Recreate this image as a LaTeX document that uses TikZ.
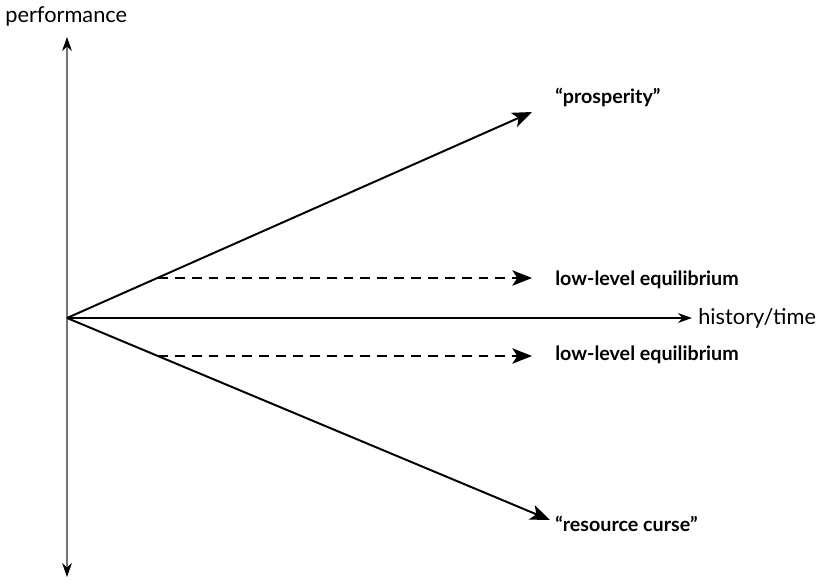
\documentclass[tikz,border=0pt]{standalone}
\usepackage{fontspec}
\setmainfont{Lato}
\usetikzlibrary{arrows.meta, positioning}

\begin{document}
\begin{tikzpicture}[
  x=0.025cm, y=-0.025cm,
  axis/.style={draw=black!55, line width=0.8pt, {Stealth[length=10pt,width=7pt,color=black]}-{Stealth[length=10pt,width=7pt,color=black]}},
  haxis/.style={draw=black, line width=0.9pt, -{Stealth[length=10pt,width=7pt]}},
  path/.style={draw=black, line width=1.4pt, -{Stealth[length=14pt,width=11pt,inset=3.5pt]}},
  stay/.style={draw=black, line width=0.9pt, dash pattern=on 7pt off 5pt, -{Stealth[length=14pt,width=11pt,inset=3.5pt]}},
  lbl/.style={anchor=west, inner sep=0pt, font=\fontsize{14}{17}\selectfont\bfseries},
  axlbl/.style={anchor=west, inner sep=0pt, font=\fontsize{15.5}{18}\selectfont}
]
\useasboundingbox (0,0) rectangle (822,582);

% axes
\coordinate (o) at (67,318);
\coordinate (top) at (67,37);
\coordinate (bottom) at (67,577);
\coordinate (xend) at (692,318);
\node[axlbl] (perf) at (5,16) {performance};
\node[axlbl] (time) at (698,318) {history/time};

\draw[axis] (top) -- (bottom);
\draw[haxis] (o) -- (xend);

% paths
\coordinate (prosp) at (532,112);
\coordinate (curse) at (550,520);
\node[lbl] (prosplbl) at (555,97) {``prosperity''};
\node[lbl] (cursenode) at (555,524) {``resource curse''};
\draw[path] (o) -- (prosp);
\draw[path] (o) -- (curse);

% low-level equilibria
\coordinate (upstart) at (158,278);
\coordinate (upend) at (532,280);
\coordinate (lowstart) at (158,356);
\coordinate (lowend) at (532,354);
\node[lbl] (uplbl) at (555,280) {low-level equilibrium};
\node[lbl] (lowlbl) at (555,355) {low-level equilibrium};
\draw[stay] (upstart) -- (upstart -| upend);
\draw[stay] (lowstart) -- (lowstart -| lowend);
\end{tikzpicture}
\end{document}
